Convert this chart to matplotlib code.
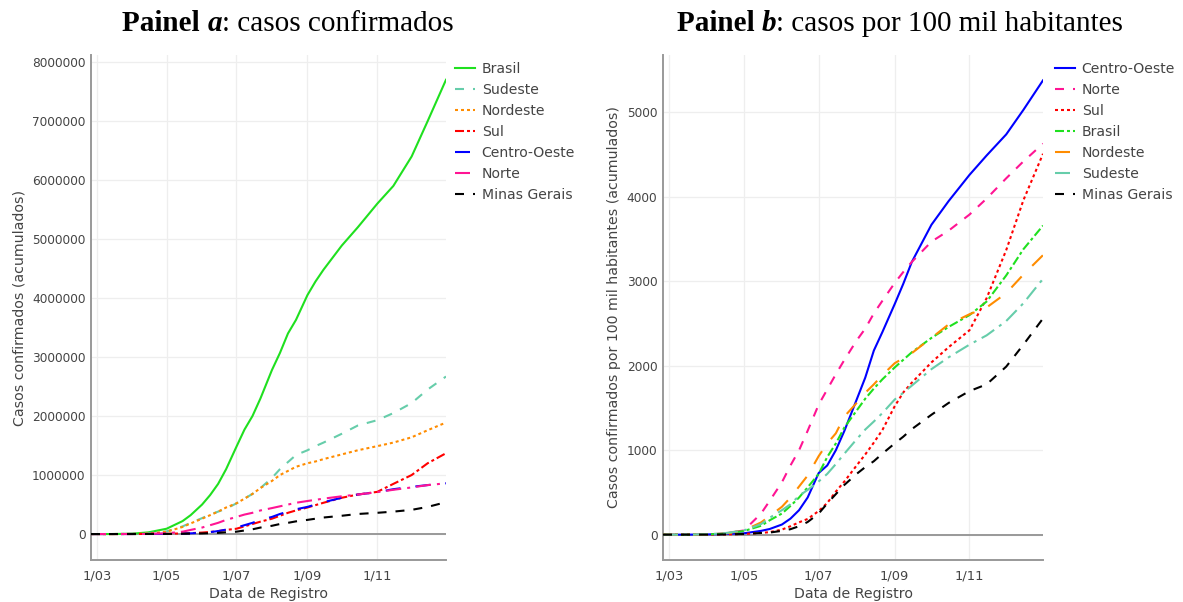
import matplotlib
matplotlib.use("Agg")
import matplotlib.pyplot as plt
import pandas as pd

# ---------------- data ----------------
dates = pd.to_datetime([
    "2020-02-25", "2020-03-15", "2020-04-01", "2020-04-15", "2020-05-01",
    "2020-05-15", "2020-05-22", "2020-06-01", "2020-06-08", "2020-06-15",
    "2020-06-22", "2020-07-01", "2020-07-08", "2020-07-15", "2020-07-22",
    "2020-08-01", "2020-08-08", "2020-08-15", "2020-08-22", "2020-09-01",
    "2020-09-08", "2020-09-15", "2020-10-01", "2020-10-15", "2020-11-01",
    "2020-11-15", "2020-12-01", "2020-12-15", "2020-12-31"])

# Panel a: confirmed cases (cumulative)
brasil_a = [0, 200, 6000, 28000, 90000, 220000, 320000, 500000, 660000, 850000,
            1100000, 1480000, 1770000, 2000000, 2300000, 2780000, 3070000, 3400000,
            3630000, 4050000, 4280000, 4480000, 4890000, 5200000, 5600000, 5900000,
            6400000, 7000000, 7700000]
sudeste_a = [0, 150, 4000, 15000, 45000, 130000, 190000, 270000, 330000, 380000,
             430000, 520000, 600000, 680000, 780000, 950000, 1100000, 1220000,
             1340000, 1420000, 1490000, 1550000, 1700000, 1840000, 1930000, 2050000,
             2220000, 2450000, 2670000]
nordeste_a = [0, 30, 1500, 8000, 40000, 120000, 180000, 260000, 320000, 380000,
              450000, 520000, 600000, 680000, 780000, 900000, 1000000, 1070000,
              1140000, 1200000, 1230000, 1270000, 1350000, 1420000, 1490000, 1550000,
              1640000, 1760000, 1890000]
sul_a = [0, 20, 800, 2000, 5000, 10000, 15000, 25000, 35000, 50000,
         70000, 90000, 130000, 170000, 210000, 260000, 310000, 360000,
         400000, 450000, 490000, 530000, 615000, 670000, 715000, 850000,
         1000000, 1200000, 1370000]
centro_a = [0, 10, 500, 1000, 3000, 7000, 12000, 20000, 33000, 50000,
            75000, 110000, 150000, 190000, 240000, 290000, 340000, 380000,
            420000, 460000, 500000, 540000, 615000, 670000, 710000, 760000,
            800000, 830000, 860000]
norte_a = [0, 10, 500, 3000, 12000, 40000, 70000, 110000, 150000, 190000,
           240000, 290000, 330000, 360000, 400000, 440000, 470000, 500000,
           530000, 560000, 580000, 600000, 640000, 670000, 710000, 750000,
           790000, 830000, 860000]
mg_a = [0, 10, 300, 1000, 2000, 5000, 7000, 10000, 15000, 20000,
        30000, 40000, 60000, 80000, 110000, 140000, 170000, 190000,
        215000, 240000, 260000, 280000, 310000, 340000, 360000, 380000,
        410000, 460000, 540000]

# Panel b: cases per 100 thousand inhabitants (cumulative)
centro_b = [0, 0.3, 3, 8, 16, 45, 67, 120, 190, 290, 440, 730, 820, 1000, 1230,
            1600, 1860, 2180, 2400, 2730, 2970, 3230, 3670, 3950, 4260, 4490,
            4740, 5030, 5380]
norte_b = [0, 0.2, 3, 15, 50, 250, 400, 620, 820, 1000, 1230, 1540, 1720, 1900,
           2070, 2300, 2440, 2620, 2770, 2980, 3110, 3230, 3470, 3600, 3790, 3980,
           4220, 4420, 4630]
sul_b = [0, 0.1, 1, 3, 8, 20, 30, 60, 100, 146, 186, 280, 375, 510, 630,
         820, 950, 1090, 1240, 1520, 1684, 1800, 2040, 2220, 2420, 2800,
         3370, 3960, 4510]
brasil_b = [0, 0.1, 3, 13, 43, 105, 170, 250, 340, 440, 560, 720, 920, 1080,
            1270, 1470, 1610, 1730, 1840, 1980, 2070, 2160, 2330, 2460, 2600,
            2760, 3070, 3380, 3660]
nordeste_b = [0, 0.1, 2, 12, 50, 145, 220, 330, 440, 570, 700, 930, 1080, 1200,
              1400, 1560, 1680, 1780, 1890, 2030, 2090, 2150, 2330, 2490, 2610,
              2690, 2860, 3080, 3310]
sudeste_b = [0, 0.2, 5, 17, 50, 125, 200, 290, 360, 460, 530, 630, 720, 836,
             960, 1130, 1245, 1340, 1440, 1600, 1680, 1765, 1960, 2100, 2250,
             2360, 2530, 2740, 3030]
mg_b = [0, 0.05, 1, 3, 8, 20, 25, 45, 65, 100, 150, 250, 370, 480, 590,
        720, 800, 870, 960, 1080, 1160, 1250, 1420, 1560, 1700, 1780,
        1990, 2250, 2560]

tick_dates = pd.to_datetime(["2020-03-01", "2020-05-01", "2020-07-01",
                             "2020-09-01", "2020-11-01"])
tick_labels = ["1/03", "1/05", "1/07", "1/09", "1/11"]

yticks_a = [0, 1000000, 2000000, 3000000, 4000000, 5000000, 6000000, 7000000, 8000000]
yticks_b = [0, 1000, 2000, 3000, 4000, 5000]

# ---------------- styles ----------------
px = 0.72  # points per pixel at dpi 100
DASH = {
    "solid": "-",
    "dot": (0, (3 * px, 3 * px)),
    "dash": (0, (9 * px, 9 * px)),
    "longdash": (0, (15 * px, 15 * px)),
    "dashdot": (0, (9 * px, 3 * px, 3 * px, 3 * px)),
    "longdashdot": (0, (15 * px, 6 * px, 3 * px, 6 * px)),
}
GREEN = "#1fe01f"
AQUA = "#66cdaa"
ORANGE = "#ff8c00"
RED = "#ff0000"
BLUE = "#0000ff"
PINK = "#ff1493"
BLACK = "#000000"

plt.rcParams["lines.scale_dashes"] = False
plt.rcParams["font.family"] = ["DejaVu Sans"]

W, H = 1183, 602
fig = plt.figure(figsize=(W / 100, H / 100), dpi=100)

def fx(p):
    return p / W

def fy(p):
    return 1 - p / H

top_px, bot_px = 55, 560
ax_a = fig.add_axes([fx(91), fy(bot_px), fx(446 - 91), (bot_px - top_px) / H])
ax_b = fig.add_axes([fx(663), fy(bot_px), fx(1043 - 663), (bot_px - top_px) / H])

series_a = [
    ("Brasil", brasil_a, GREEN, "solid"),
    ("Sudeste", sudeste_a, AQUA, "dash"),
    ("Nordeste", nordeste_a, ORANGE, "dot"),
    ("Sul", sul_a, RED, "dashdot"),
    ("Centro-Oeste", centro_a, BLUE, "longdash"),
    ("Norte", norte_a, PINK, "longdashdot"),
    ("Minas Gerais", mg_a, BLACK, "dash"),
]
series_b = [
    ("Centro-Oeste", centro_b, BLUE, "solid"),
    ("Norte", norte_b, PINK, "dash"),
    ("Sul", sul_b, RED, "dot"),
    ("Brasil", brasil_b, GREEN, "dashdot"),
    ("Nordeste", nordeste_b, ORANGE, "longdash"),
    ("Sudeste", sudeste_b, AQUA, "longdashdot"),
    ("Minas Gerais", mg_b, BLACK, "dash"),
]

TXT = "#444444"

def style_axes(ax, yticks, ylim, ylabel):
    ax.set_facecolor("white")
    for s in ["top", "right"]:
        ax.spines[s].set_visible(False)
    for s in ["left", "bottom"]:
        ax.spines[s].set_color("#999999")
        ax.spines[s].set_linewidth(1.4)
    ax.set_xlim(dates[0], dates[-1])
    ax.set_ylim(*ylim)
    ax.set_xticks(tick_dates)
    ax.set_xticklabels(tick_labels)
    ax.set_yticks(yticks)
    ax.set_yticklabels([f"{int(v)}" for v in yticks])
    ax.tick_params(length=0, labelcolor=TXT)
    ax.tick_params(axis="y", labelsize=8.7, pad=4)
    ax.tick_params(axis="x", labelsize=9.4, pad=7)
    ax.grid(True, color="#eeeeee", linewidth=0.9)
    ax.set_axisbelow(True)
    ax.axhline(0, color="#999999", linewidth=1.4, zorder=1.5)
    ax.set_xlabel("Data de Registro", fontsize=10.2, color=TXT, labelpad=3)
    ax.set_ylabel(ylabel, fontsize=10.2, color=TXT, labelpad=4)

for ax, series in [(ax_a, series_a), (ax_b, series_b)]:
    for name, vals, col, ds in series:
        ax.plot(dates, vals, color=col, linestyle=DASH[ds], linewidth=1.5,
                label=name, zorder=3)

style_axes(ax_a, yticks_a, (-440000, 8120000), "Casos confirmados (acumulados)")
style_axes(ax_b, yticks_b, (-300, 5680),
           "Casos confirmados por 100 mil habitantes (acumulados)")

leg_kw = dict(frameon=False, fontsize=10.1, handlelength=1.45, handletextpad=0.45,
              labelspacing=0.5, borderpad=0, borderaxespad=0, loc="upper left")
la = ax_a.legend(bbox_to_anchor=(fx(455), fy(62)), bbox_transform=fig.transFigure, **leg_kw)
lb = ax_b.legend(bbox_to_anchor=(fx(1055), fy(62)), bbox_transform=fig.transFigure, **leg_kw)
for lg in (la, lb):
    for t in lg.get_texts():
        t.set_color(TXT)

# ---------------- titles with mixed font styles ----------------
SERIF = ["Liberation Serif", "DejaVu Serif"]

def mixed_title(parts, center_px, base_px, size):
    texts = []
    for s, w, st in parts:
        texts.append(fig.text(0, fy(base_px), s, fontsize=size, fontweight=w,
                              fontstyle=st, family=SERIF, va="baseline", ha="left"))
    fig.canvas.draw()
    r = fig.canvas.get_renderer()
    widths = [t.get_window_extent(r).width for t in texts]
    total = sum(widths)
    x = center_px - total / 2
    for t, wdt in zip(texts, widths):
        t.set_x(fx(x))
        x += wdt

mixed_title([("Painel ", "bold", "normal"), ("a", "bold", "italic"),
             (": casos confirmados", "normal", "normal")], 288, 31, 21)
mixed_title([("Painel ", "bold", "normal"), ("b", "bold", "italic"),
             (": casos por 100 mil habitantes", "normal", "normal")], 900, 31, 21)

fig.savefig("out.png", dpi=100)
